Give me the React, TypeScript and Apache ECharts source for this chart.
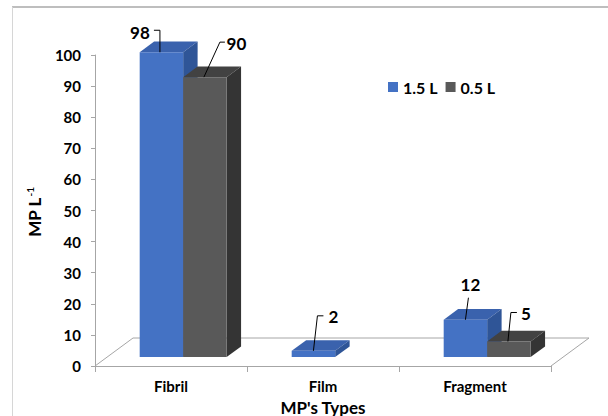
import React, { useEffect, useRef } from "react";
import * as echarts from "echarts";

// ---- data ----
const categories = ["Fibril", "Film", "Fragment"];
const seriesNames = ["1.5 L", "0.5 L"];
const values15L: (number | null)[] = [98, 2, 12];
const values05L: (number | null)[] = [90, null, 5];
const yMin = 0;
const yMax = 100;
const yInterval = 10;
const xAxisTitle = "MP's Types";
const yAxisTitleMain = "MP L";
const yAxisTitleSup = "-1";

// ---- layout / style ----
const FONT = "Lato, 'Open Sans', sans-serif";
const DEPTH = [38, -28];
const BAR_FRONT = 0.32;
const BAR_BACK = 0.7;
const BAR_W_FRAC = 0.286;
const AXIS_GRAY = "#A6A6A6";

const palettes = [
  { front: "#4472C4", top: "#3A62AD", side: "#2F5597" },
  { front: "#595959", top: "#424242", side: "#343434" },
];

// leader lines and label positions, relative to the bar's front-top centre
const leaderLayout: ({ pts: number[][]; text: number[] } | null)[][] = [
  [
    { pts: [[-1.5, 0], [-1.5, -22], [-7.5, -22]], text: [-21.5, -20] },
    { pts: [[0, 0], [4, -35], [10, -35]], text: [20, -34] },
    { pts: [[0, 0], [3, -22]], text: [5, -35] },
  ],
  [
    { pts: [[-1, 0], [15, -35], [20, -35]], text: [31.5, -34] },
    null,
    { pts: [[-1, 0], [2, -29], [8, -29]], text: [17, -28] },
  ],
];

function makeBarRender(s: number) {
  return (params: any, api: any) => {
    const idx = api.value(0);
    const v = api.value(1);
    if (v == null || isNaN(v) || v <= 0) return;
    const base = api.coord([idx, 0]);
    const topPt = api.coord([idx, v]);
    const band = api.size([1, 0])[0];
    const bw = band * BAR_W_FRAC;
    const ox = DEPTH[0] * BAR_FRONT;
    const oy = DEPTH[1] * BAR_FRONT;
    const dx = DEPTH[0] * (BAR_BACK - BAR_FRONT);
    const dy = DEPTH[1] * (BAR_BACK - BAR_FRONT);
    const x0 = base[0] + ox + (s === 0 ? -bw : 0);
    const x1 = x0 + bw;
    const yb = base[1] + oy;
    const yt = topPt[1] + oy;
    const pal = palettes[s];
    const children: any[] = [
      {
        type: "polygon",
        shape: { points: [[x0, yt], [x1, yt], [x1 + dx, yt + dy], [x0 + dx, yt + dy]] },
        style: { fill: pal.top },
      },
      {
        type: "polygon",
        shape: { points: [[x1, yt], [x1 + dx, yt + dy], [x1 + dx, yb + dy], [x1, yb]] },
        style: { fill: pal.side },
      },
      {
        type: "rect",
        shape: { x: x0, y: yt, width: bw, height: yb - yt },
        style: { fill: pal.front },
      },
    ];
    const lay = leaderLayout[s][idx];
    if (lay) {
      const cx = (x0 + x1) / 2;
      const cy = yt;
      children.push({
        type: "polyline",
        shape: { points: lay.pts.map((p) => [cx + p[0], cy + p[1]]) },
        style: { stroke: "#000", lineWidth: 1, fill: null },
        z2: 10,
      });
      children.push({
        type: "text",
        x: cx + lay.text[0],
        y: cy + lay.text[1],
        style: {
          text: String(v),
          fill: "#000",
          font: `bold 17px ${FONT}`,
          align: "center",
          verticalAlign: "middle",
        },
        z2: 10,
      });
    }
    return { type: "group", children };
  };
}

function floorRender(params: any, api: any) {
  const cs = params.coordSys;
  const xl = cs.x;
  const xr = cs.x + cs.width;
  const yb = cs.y + cs.height;
  return {
    type: "polyline",
    shape: {
      points: [
        [xl, yb],
        [xl + DEPTH[0], yb + DEPTH[1]],
        [xr + DEPTH[0], yb + DEPTH[1]],
        [xr, yb],
      ],
    },
    style: { stroke: AXIS_GRAY, lineWidth: 1, fill: null },
  };
}

export default function App() {
  const ref = useRef<HTMLDivElement>(null);
  useEffect(() => {
    if (!ref.current) return;
    const chart = echarts.init(ref.current, undefined, { renderer: "svg" });
    const allValues = [values15L, values05L];
    chart.setOption({
      animation: false,
      backgroundColor: "#fff",
      grid: { left: 95, top: 55, width: 456, height: 311 },
      legend: {
        data: seriesNames.map((n) => ({ name: n, icon: "rect" })),
        left: 383,
        top: 74,
        itemWidth: 10,
        itemHeight: 10,
        itemGap: 8,
        textStyle: { fontFamily: FONT, fontWeight: "bold", fontSize: 16, color: "#000" },
      },
      xAxis: {
        type: "category",
        data: categories,
        axisLine: { lineStyle: { color: AXIS_GRAY } },
        axisTick: { show: true, length: 6, lineStyle: { color: AXIS_GRAY } },
        axisLabel: { fontFamily: FONT, fontWeight: "bold", fontSize: 15, color: "#000", margin: 12 },
        splitLine: { show: false },
      },
      yAxis: {
        type: "value",
        min: yMin,
        max: yMax,
        interval: yInterval,
        axisLine: { show: true, lineStyle: { color: AXIS_GRAY } },
        axisTick: { show: true, length: 4, lineStyle: { color: AXIS_GRAY } },
        axisLabel: { fontFamily: FONT, fontWeight: "bold", fontSize: 15, color: "#000", margin: 14 },
        splitLine: { show: false },
      },
      graphic: [
        { type: "line", shape: { x1: 12, y1: 7, x2: 608, y2: 7 }, style: { stroke: "#A8A8A8", lineWidth: 1.5 } },
        { type: "line", shape: { x1: 12.5, y1: 7, x2: 12.5, y2: 416 }, style: { stroke: "#D6D6D6", lineWidth: 1 } },
        {
          type: "text",
          x: 323,
          y: 407,
          style: {
            text: xAxisTitle,
            font: `bold 17px ${FONT}`,
            fill: "#000",
            align: "center",
            verticalAlign: "middle",
          },
        },
        {
          type: "text",
          x: 34,
          y: 212,
          rotation: Math.PI / 2,
          style: {
            text: `{a|${yAxisTitleMain}}{b|${yAxisTitleSup}}`,
            align: "center",
            verticalAlign: "middle",
            rich: {
              a: { fontFamily: FONT, fontWeight: "bold", fontSize: 17, color: "#000" },
              b: { fontFamily: FONT, fontWeight: "bold", fontSize: 10, color: "#000", verticalAlign: "top", padding: [0, 0, 8, 1] },
            },
          },
        },
      ],
      series: [
        {
          type: "custom",
          name: "floor",
          renderItem: floorRender,
          data: [[0, 0]],
          encode: { x: 0, y: 1 },
          silent: true,
          z: 1,
        },
        ...allValues.map((vals, s) => ({
          type: "custom",
          name: seriesNames[s],
          renderItem: makeBarRender(s),
          data: vals.map((v, i) => [i, v == null ? "-" : v]),
          encode: { x: 0, y: 1 },
          itemStyle: { color: palettes[s].front },
          z: 2 + s,
        })),
      ],
    });
    return () => chart.dispose();
  }, []);
  return (
    <div
      ref={ref}
      style={{ position: "absolute", left: 0, top: 0, width: 608, height: 416 }}
    />
  );
}
